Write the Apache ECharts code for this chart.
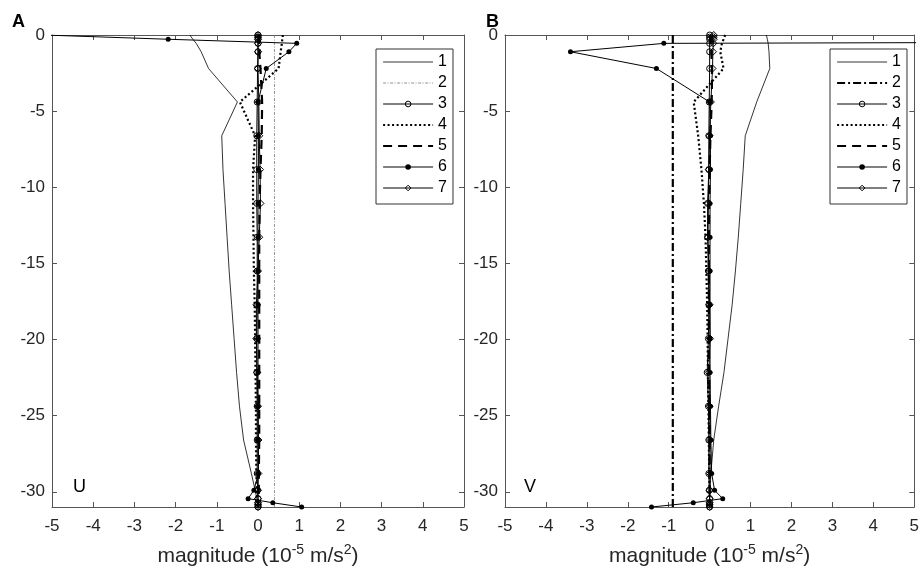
<!DOCTYPE html>
<html>
<head>
<meta charset="utf-8">
<script src="https://cdn.jsdelivr.net/npm/echarts@6/dist/echarts.min.js"></script>
<style>
  html, body { margin: 0; padding: 0; background: #fff; }
  #chart { width: 922px; height: 575px; }
</style>
</head>
<body>
<div id="chart"></div>
<script>
  // depth levels (m)
  const depth = [0, -0.14, -0.28, -0.55, -1.1, -2.2, -4.4, -6.62, -8.84, -11.06, -13.28, -15.5, -17.72, -19.94, -22.16, -24.38, -26.6, -28.8, -29.9, -30.45, -30.72, -30.86, -31];
  // term 6 is given on fewer levels
  const depth6 = [0, -0.28, -0.55, -1.1, -2.2, -4.4, -6.62, -8.84, -11.06, -13.28, -15.5, -17.72, -19.94, -22.16, -24.38, -26.6, -28.8, -29.9, -30.45, -30.72, -31];
  const yTicks = [0, -5, -10, -15, -20, -25, -30];

  // panel A : U
  const u1 = [-1.65, -1.62, -1.58, -1.5, -1.38, -1.2, -0.5, -0.88, -0.85, -0.8, -0.75, -0.7, -0.64, -0.58, -0.52, -0.45, -0.35, -0.16, -0.07, -0.03, -0.01, 0, 0];
  const u2 = [0.4, 0.4, 0.4, 0.4, 0.4, 0.4, 0.4, 0.4, 0.4, 0.4, 0.4, 0.4, 0.4, 0.4, 0.4, 0.4, 0.4, 0.4, 0.4, 0.4, 0.4, 0.4, 0.4];
  const u3 = [0, 0, 0, 0, 0, -0.01, -0.02, -0.03, -0.03, -0.03, -0.02, -0.02, -0.02, -0.03, -0.03, -0.02, -0.02, -0.02, -0.01, 0, 0, 0, 0];
  const u4 = [0.6, 0.6, 0.59, 0.58, 0.55, 0.5, -0.44, -0.07, -0.12, -0.12, -0.11, -0.1, -0.08, -0.07, -0.06, -0.05, -0.05, -0.04, -0.03, -0.02, -0.02, -0.01, -0.01];
  const u5 = [0.02, 0.02, 0.02, 0.02, 0.03, 0.06, 0.1, 0.09, 0.06, 0.04, 0.03, 0.03, 0.03, 0.03, 0.03, 0.03, 0.03, 0.02, 0.02, 0.01, 0.01, 0, 0];
  const u6 = [-5.2, -2.18, 0.94, 0.75, 0.2, 0, 0.01, 0.01, 0, 0, 0, 0, 0, 0, 0, 0, 0.01, -0.1, -0.24, 0.36, 1.06];
  const u7 = [0, 0, 0, 0, 0, 0, 0.02, 0.03, 0.05, 0.06, 0.03, 0, -0.04, -0.04, -0.02, 0, 0.01, 0.01, 0, 0, 0, 0, 0];

  // panel B : V
  const v1 = [1.38, 1.4, 1.41, 1.43, 1.45, 1.47, 1.15, 0.87, 0.82, 0.76, 0.7, 0.63, 0.55, 0.45, 0.35, 0.22, 0.1, 0.03, 0.01, 0, 0, 0, 0];
  const v2 = [-0.9, -0.9, -0.9, -0.9, -0.9, -0.9, -0.9, -0.9, -0.9, -0.9, -0.9, -0.9, -0.9, -0.9, -0.9, -0.9, -0.9, -0.9, -0.9, -0.9, -0.9, -0.9, -0.9];
  const v3 = [0, 0, 0, 0, 0, 0, -0.01, -0.02, -0.02, -0.05, -0.05, -0.03, -0.02, -0.03, -0.06, -0.03, -0.02, -0.02, -0.01, 0, 0, 0, 0];
  const v4 = [0.38, 0.36, 0.34, 0.3, 0.26, 0.34, -0.39, -0.28, -0.2, -0.14, -0.1, -0.08, -0.06, -0.05, -0.04, -0.03, -0.02, -0.01, 0, 0, 0, 0, 0];
  const v5 = [0.02, 0.02, 0.02, 0.03, 0.04, 0.06, 0.05, 0.02, 0, -0.01, -0.02, -0.02, -0.02, -0.02, -0.01, -0.01, 0, 0, 0, 0, 0, 0, 0];
  const v6 = [40, 35, -1.12, -3.4, -1.3, 0, 0.02, 0.02, 0.01, 0.01, 0.01, 0.01, 0.01, 0.01, 0.02, 0.03, 0.05, 0.12, 0.32, -0.4, -1.42];
  const v7 = [0.1, 0.1, 0.1, 0.09, 0.08, 0.07, 0.03, 0, -0.02, -0.03, -0.04, -0.02, 0, 0.01, -0.02, 0, 0.01, 0.01, 0, 0, 0, 0, 0];

  const FONT = 'Liberation Sans, Arial, Helvetica, sans-serif';
  const AXC = '#555';

  function pts(xs, ds) {
    return xs.map(function (x, i) { return [x, ds[i]]; });
  }

  const noMark = { symbol: 'none', itemStyle: { color: 'rgba(0,0,0,0)' } };
  const circ = { symbol: 'circle', symbolSize: 6, itemStyle: { color: 'rgba(0,0,0,0)', borderColor: '#000', borderWidth: 1 } };
  const diam = { symbol: 'diamond', symbolSize: 7, itemStyle: { color: 'rgba(0,0,0,0)', borderColor: '#000', borderWidth: 1 } };
  const star = { symbol: 'circle', symbolSize: 5, itemStyle: { color: '#000' } };

  // line style of each term, per panel
  const styleA = {
    1: { width: 0.8 },
    2: { width: 0.8, color: '#777', type: [3, 1.5, 1, 1.5] },
    3: { width: 1 },
    4: { width: 2.2, type: [2, 2.5] },
    5: { width: 2.2, type: [9, 6] },
    6: { width: 1 },
    7: { width: 1 }
  };
  const styleB = Object.assign({}, styleA, {
    2: { width: 2.2, type: [8, 3, 2, 3] }
  });

  function line(name, data, ax, mark, ls, clip) {
    return Object.assign({
      name: name, type: 'line', data: data,
      xAxisIndex: ax, yAxisIndex: ax,
      clip: !!clip, animation: false,
      lineStyle: Object.assign({ color: '#000', width: 1 }, ls)
    }, mark);
  }

  const series = [
    line('A1', pts(u1, depth), 0, noMark, styleA[1]),
    line('A2', pts(u2, depth), 0, noMark, styleA[2]),
    line('A3', pts(u3, depth), 0, circ, styleA[3]),
    line('A4', pts(u4, depth), 0, noMark, styleA[4]),
    line('A5', pts(u5, depth), 0, noMark, styleA[5]),
    line('A6', pts(u6, depth6), 0, star, styleA[6], true),
    line('A7', pts(u7, depth), 0, diam, styleA[7]),
    line('B1', pts(v1, depth), 2, noMark, styleB[1]),
    line('B2', pts(v2, depth), 2, noMark, styleB[2]),
    line('B3', pts(v3, depth), 2, circ, styleB[3]),
    line('B4', pts(v4, depth), 2, noMark, styleB[4]),
    line('B5', pts(v5, depth), 2, noMark, styleB[5]),
    line('B6', pts(v6, depth6), 2, star, styleB[6], true),
    line('B7', pts(v7, depth), 2, diam, styleB[7])
  ];

  function legendData(p, st) {
    return ['1', '2', '3', '4', '5', '6', '7'].map(function (k) {
      const item = { name: p + k, lineStyle: { width: st[k].width } };
      if (k === '1' || k === '2' || k === '4' || k === '5') item.itemStyle = { opacity: 0 };
      if (k === '3' || k === '7') item.itemStyle = { color: 'rgba(0,0,0,0)', borderColor: '#000', borderWidth: 1 };
      return item;
    });
  }

  function legend(p, st, left) {
    return {
      data: legendData(p, st), orient: 'vertical', left: left, top: 49,
      itemWidth: 50, itemHeight: 7, itemGap: 5,
      padding: [5, 6, 8, 6],
      borderColor: '#333', borderWidth: 1, backgroundColor: '#fff',
      selectedMode: false,
      textStyle: { fontFamily: FONT, fontSize: 16, color: '#000', lineHeight: 16 },
      formatter: function (n) { return n.slice(1); }
    };
  }

  function xAx(grid, pos) {
    const bottom = pos === 'bottom';
    return {
      type: 'value', gridIndex: grid, position: pos, min: -5, max: 5, interval: 1,
      axisLine: { show: true, onZero: false, lineStyle: { color: AXC, width: 1 } },
      axisTick: { show: true, inside: true, length: 5, lineStyle: { color: AXC } },
      axisLabel: { show: bottom, margin: 11, fontFamily: FONT, fontSize: 17, color: '#262626' },
      splitLine: { show: false },
      name: bottom ? 'magnitude (10{sup|-5} m/s{sup|2})' : '',
      nameLocation: 'middle', nameGap: 36,
      nameTextStyle: {
        fontFamily: FONT, fontSize: 21, color: '#262626', lineHeight: 27,
        rich: { sup: { fontFamily: FONT, fontSize: 14, color: '#262626', lineHeight: 15, verticalAlign: 'top' } }
      }
    };
  }

  function yAx(grid, pos) {
    const left = pos === 'left';
    return {
      type: 'value', gridIndex: grid, position: pos, min: -31, max: 0,
      axisLine: { show: true, onZero: false, lineStyle: { color: AXC, width: 1 } },
      axisTick: { show: true, inside: true, length: 5, lineStyle: { color: AXC }, customValues: yTicks },
      axisLabel: { show: left, margin: 7, fontFamily: FONT, fontSize: 17, color: '#262626', customValues: yTicks },
      splitLine: { show: false }
    };
  }

  const chart = echarts.init(document.getElementById('chart'));
  chart.setOption({
    backgroundColor: '#fff',
    animation: false,
    grid: [
      { left: 52, right: 458, top: 35, bottom: 59 },
      { left: 505, right: 5, top: 35, bottom: 59 }
    ],
    xAxis: [xAx(0, 'bottom'), xAx(0, 'top'), xAx(1, 'bottom'), xAx(1, 'top')],
    yAxis: [yAx(0, 'left'), yAx(0, 'right'), yAx(1, 'left'), yAx(1, 'right')],
    legend: [legend('A', styleA, 376), legend('B', styleB, 830)],
    graphic: [
      { type: 'text', x: 12, y: 22, style: { text: 'A', fontFamily: FONT, fontSize: 18, fontWeight: 'bold', fill: '#000', verticalAlign: 'middle' } },
      { type: 'text', x: 486, y: 22, style: { text: 'B', fontFamily: FONT, fontSize: 18, fontWeight: 'bold', fill: '#000', verticalAlign: 'middle' } },
      { type: 'text', x: 73, y: 487, style: { text: 'U', fontFamily: FONT, fontSize: 18, fill: '#000', verticalAlign: 'middle' } },
      { type: 'text', x: 524, y: 487, style: { text: 'V', fontFamily: FONT, fontSize: 18, fill: '#000', verticalAlign: 'middle' } }
    ],
    series: series
  });
</script>
</body>
</html>
